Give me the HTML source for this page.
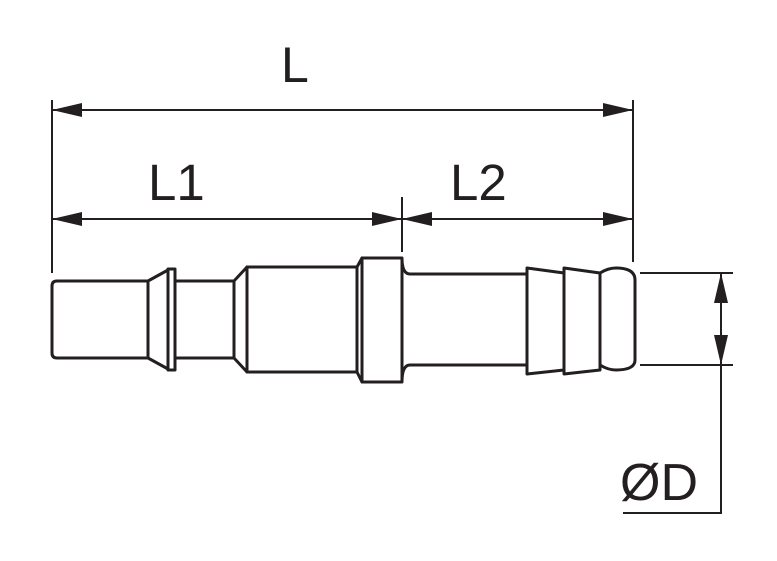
<!DOCTYPE html>
<html><head><style>
html,body{margin:0;padding:0;background:#fff;}
svg{display:block;}
text{font-family:"Liberation Sans",sans-serif;fill:#231f20;}
</style></head><body>
<svg width="777" height="561" viewBox="0 0 777 561" xmlns="http://www.w3.org/2000/svg">
<defs>
<marker id="a" viewBox="0 0 30 14" refX="30" refY="7" markerWidth="30" markerHeight="14" markerUnits="userSpaceOnUse" orient="auto-start-reverse">
<path d="M0,0 L30,7 L0,14 Z" fill="#231f20"/>
</marker>
</defs>
<g stroke="#231f20" stroke-width="2" fill="none">
<line x1="52" y1="100" x2="52" y2="273"/>
<line x1="633" y1="100" x2="633" y2="262"/>
<line x1="402" y1="197" x2="402" y2="252"/>
<line x1="52" y1="110" x2="633" y2="110" marker-start="url(#a)" marker-end="url(#a)"/>
<line x1="52" y1="219" x2="402" y2="219" marker-start="url(#a)" marker-end="url(#a)"/>
<line x1="402" y1="219" x2="633" y2="219" marker-start="url(#a)" marker-end="url(#a)"/>
<line x1="640" y1="273" x2="733" y2="273"/>
<line x1="640" y1="365" x2="733" y2="365"/>
<line x1="721" y1="273" x2="721" y2="365" marker-start="url(#a)" marker-end="url(#a)"/>
<line x1="721" y1="365" x2="721" y2="513"/>
<line x1="623" y1="513" x2="722" y2="513"/>
</g>
<g stroke="#231f20" stroke-width="3" fill="none" stroke-linejoin="round">
<path d="M148,281 L57,281 Q52,281 52,286 L52,353 Q52,358 57,358 L148,358"/>
<path d="M148,281 L148,358 L168,369 L168,270 Z"/>
<rect x="168" y="269" width="7" height="101"/>
<rect x="175" y="281" width="59" height="77"/>
<path d="M234,281 L247,267 L247,372 L234,358 Z"/>
<rect x="247" y="267" width="110" height="105"/>
<path d="M357,267 L362,258 L362,382 L357,372"/>
<rect x="362" y="258" width="40" height="124"/>
<path d="M402,258 Q402,274 410,274 L527,274 M402,382 Q402,365 410,365 L527,365"/>
<path d="M527,268 L564,273 L564,370 L527,374 Z"/>
<path d="M564,268 L600,273 L600,370 L564,374 Z"/>
<path d="M600,273 Q608,268 616,268 Q635,268 635,280 L635,360 Q635,370 616,370 Q608,370 600,365"/>
</g>
<text x="281" y="82" font-size="50">L</text>
<text x="148" y="200" font-size="51">L1</text>
<text x="450" y="200" font-size="51">L2</text>
<text x="620" y="500" font-size="52">ØD</text>
</svg>
</body></html>
